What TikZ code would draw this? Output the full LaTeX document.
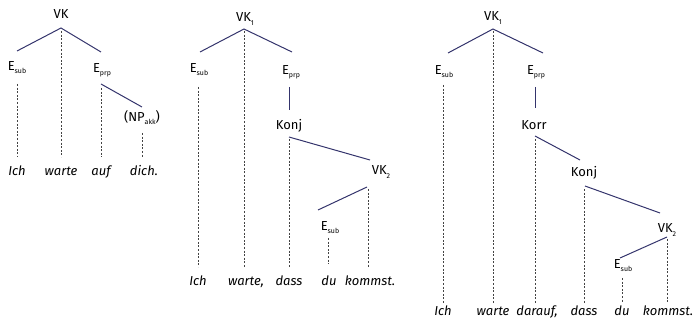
\documentclass[tikz,border=0pt]{standalone}
\usepackage{fontspec}
\setmainfont{Fira Sans}
\newcommand{\sbs}[1]{\raisebox{-0.45ex}{\fontsize{7}{8}\selectfont #1}}
\definecolor{navy}{HTML}{34346C}
\definecolor{dgrey}{HTML}{444444}
\begin{document}
\begin{tikzpicture}[x=1pt,y=-1pt,
  lab/.style={inner sep=0pt,font=\fontsize{13}{15}\selectfont},
  wrd/.style={inner sep=0pt,anchor=base,font=\fontsize{13}{15}\selectfont\itshape},
  sl/.style={draw=navy,line width=1pt},
  dl/.style={draw=dgrey,line width=0.75pt,dash pattern=on 2pt off 1.6pt}]
\useasboundingbox (0,0) rectangle (697,331);

% ---------- Tree 1 ----------
\node[lab] (t1vk) at (61,14) {VK};
\coordinate (t1a) at (61,28);
\coordinate (t1l) at (17,51);
\coordinate (t1r) at (101,52);
\node[lab] (t1es) at (17,68) {E\sbs{sub}};
\node[lab] (t1ep) at (102,70) {E\sbs{prp}};
\node[lab] (t1np) at (142,118) {(NP\sbs{akk})};
\coordinate (t1pb) at (101,84);
\coordinate (t1nt) at (142,107);
\node[wrd] (t1w1) at (17,176) {Ich};
\node[wrd] (t1w2) at (61,176) {warte};
\node[wrd] (t1w3) at (101,176) {auf};
\node[wrd] (t1w4) at (144,176) {dich.};
\coordinate (t1d1a) at (17,84);   \coordinate (t1d1b) at (17,157);
\coordinate (t1d2a) at (61,31);   \coordinate (t1d2b) at (61,157);
\coordinate (t1d3a) at (101,88);  \coordinate (t1d3b) at (101,157);
\coordinate (t1d4a) at (142,133); \coordinate (t1d4b) at (142,157);
\draw[sl] (t1l) -- (t1a) -- (t1r);
\draw[sl] (t1pb) -- (t1nt);
\draw[dl] (t1d1a) -- (t1d1b);
\draw[dl] (t1d2a) -- (t1d2b);
\draw[dl] (t1d3a) -- (t1d3b);
\draw[dl] (t1d4a) -- (t1d4b);

% ---------- Tree 2 ----------
\node[lab] (t2vk) at (245,19) {VK\sbs{1}};
\coordinate (t2a) at (244,29);
\coordinate (t2l) at (200,52);
\coordinate (t2r) at (292,52);
\node[lab] (t2es) at (199,70) {E\sbs{sub}};
\node[lab] (t2ep) at (291,72) {E\sbs{prp}};
\node[lab] (t2kj) at (289,126) {Konj};
\node[lab] (t2vk2) at (381,172) {VK\sbs{2}};
\node[lab] (t2es2) at (330,228) {E\sbs{sub}};
\coordinate (t2v1) at (289,87);  \coordinate (t2v2) at (289,110);
\coordinate (t2k1) at (289,137); \coordinate (t2k2) at (370,160);
\coordinate (t2m1) at (367,187); \coordinate (t2m2) at (318,210);
\node[wrd] (t2w1) at (198,286) {Ich};
\node[wrd] (t2w2) at (246,286) {warte,};
\node[wrd] (t2w3) at (289,286) {dass};
\node[wrd] (t2w4) at (329,286) {du};
\node[wrd] (t2w5) at (370,286) {kommst.};
\coordinate (t2d1a) at (198,87);  \coordinate (t2d1b) at (198,267);
\coordinate (t2d2a) at (244,31);  \coordinate (t2d2b) at (244,267);
\coordinate (t2d3a) at (289,139); \coordinate (t2d3b) at (289,267);
\coordinate (t2d4a) at (328,238); \coordinate (t2d4b) at (328,264);
\coordinate (t2d5a) at (368,189); \coordinate (t2d5b) at (368,267);
\draw[sl] (t2l) -- (t2a) -- (t2r);
\draw[sl] (t2v1) -- (t2v2);
\draw[sl] (t2k1) -- (t2k2);
\draw[sl] (t2m1) -- (t2m2);
\draw[dl] (t2d1a) -- (t2d1b);
\draw[dl] (t2d2a) -- (t2d2b);
\draw[dl] (t2d3a) -- (t2d3b);
\draw[dl] (t2d4a) -- (t2d4b);
\draw[dl] (t2d5a) -- (t2d5b);

% ---------- Tree 3 ----------
\node[lab] (t3vk) at (493,18) {VK\sbs{1}};
\coordinate (t3a) at (493,29);
\coordinate (t3l) at (448,53);
\coordinate (t3r) at (543,53);
\node[lab] (t3es) at (444,72) {E\sbs{sub}};
\node[lab] (t3ep) at (536,72) {E\sbs{prp}};
\node[lab] (t3kr) at (534,125) {Korr};
\node[lab] (t3kj) at (584,173) {Konj};
\node[lab] (t3vk2) at (667,230) {VK\sbs{2}};
\node[lab] (t3es2) at (623,266) {E\sbs{sub}};
\coordinate (t3v1) at (535,87);  \coordinate (t3v2) at (535,108);
\coordinate (t3r1) at (535,136); \coordinate (t3r2) at (580,160);
\coordinate (t3k1) at (585,186); \coordinate (t3k2) at (660,213);
\coordinate (t3m1) at (667,237); \coordinate (t3m2) at (620,258);
\node[wrd] (t3w1) at (443,316) {Ich};
\node[wrd] (t3w2) at (493,316) {warte};
\node[wrd] (t3w3) at (537,316) {darauf,};
\node[wrd] (t3w4) at (584,316) {dass};
\node[wrd] (t3w5) at (622,316) {du};
\node[wrd] (t3w6) at (668,316) {kommst.};
\coordinate (t3d1a) at (443,85);  \coordinate (t3d1b) at (443,303);
\coordinate (t3d2a) at (493,31);  \coordinate (t3d2b) at (493,303);
\coordinate (t3d3a) at (535,139); \coordinate (t3d3b) at (535,303);
\coordinate (t3d4a) at (584,189); \coordinate (t3d4b) at (584,303);
\coordinate (t3d5a) at (622,278); \coordinate (t3d5b) at (622,303);
\coordinate (t3d6a) at (667,239); \coordinate (t3d6b) at (667,303);
\draw[sl] (t3l) -- (t3a) -- (t3r);
\draw[sl] (t3v1) -- (t3v2);
\draw[sl] (t3r1) -- (t3r2);
\draw[sl] (t3k1) -- (t3k2);
\draw[sl] (t3m1) -- (t3m2);
\draw[dl] (t3d1a) -- (t3d1b);
\draw[dl] (t3d2a) -- (t3d2b);
\draw[dl] (t3d3a) -- (t3d3b);
\draw[dl] (t3d4a) -- (t3d4b);
\draw[dl] (t3d5a) -- (t3d5b);
\draw[dl] (t3d6a) -- (t3d6b);
\end{tikzpicture}
\end{document}
